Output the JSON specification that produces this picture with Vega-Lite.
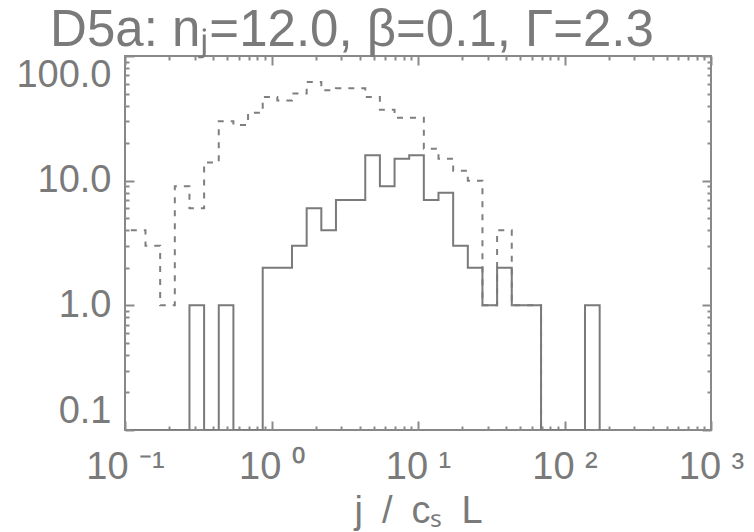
{
  "$schema": "https://vega.github.io/schema/vega-lite/v6.json",
  "width": 586,
  "height": 374,
  "autosize": {"type": "none"},
  "padding": {"left": 125, "top": 56, "right": 43, "bottom": 102},
  "background": "white",
  "title": {
    "text": "D5a: n\u2c7c=12.0, \u03b2=0.1, \u0393=2.3",
    "anchor": "middle",
    "frame": "group",
    "dx": -66,
    "dy": 52,
    "fontSize": 51,
    "font": "Liberation Sans",
    "fontWeight": "normal",
    "color": "#7a7a7a",
    "baseline": "alphabetic",
    "offset": 10
  },
  "datasets": {
    "hist": [
      {"j": 0.1096, "solid": 0, "dashed": 4},
      {"j": 0.1380, "solid": 0, "dashed": 3},
      {"j": 0.1738, "solid": 0, "dashed": 1},
      {"j": 0.2188, "solid": 0, "dashed": 9},
      {"j": 0.2754, "solid": 1, "dashed": 6},
      {"j": 0.3467, "solid": 0, "dashed": 14},
      {"j": 0.4365, "solid": 1, "dashed": 30},
      {"j": 0.5495, "solid": 0, "dashed": 28},
      {"j": 0.6918, "solid": 0, "dashed": 35},
      {"j": 0.8710, "solid": 2, "dashed": 47},
      {"j": 1.096, "solid": 2, "dashed": 44},
      {"j": 1.380, "solid": 3, "dashed": 50},
      {"j": 1.738, "solid": 6, "dashed": 62},
      {"j": 2.188, "solid": 4, "dashed": 53},
      {"j": 2.754, "solid": 7, "dashed": 55},
      {"j": 3.467, "solid": 7, "dashed": 55},
      {"j": 4.365, "solid": 16, "dashed": 47},
      {"j": 5.495, "solid": 9, "dashed": 37},
      {"j": 6.918, "solid": 15, "dashed": 32},
      {"j": 8.710, "solid": 16, "dashed": 32},
      {"j": 10.96, "solid": 7, "dashed": 18},
      {"j": 13.80, "solid": 8, "dashed": 15},
      {"j": 17.38, "solid": 3, "dashed": 12},
      {"j": 21.88, "solid": 2, "dashed": 10},
      {"j": 27.54, "solid": 1, "dashed": 1},
      {"j": 34.67, "solid": 2, "dashed": 4},
      {"j": 43.65, "solid": 1, "dashed": 1},
      {"j": 54.95, "solid": 1, "dashed": 1},
      {"j": 69.18, "solid": 0, "dashed": 0},
      {"j": 87.10, "solid": 0, "dashed": 0},
      {"j": 109.6, "solid": 0, "dashed": 0},
      {"j": 138.0, "solid": 1, "dashed": 0},
      {"j": 173.8, "solid": 0, "dashed": 0}
    ]
  },
  "data": {"name": "hist"},
  "resolve": {
    "scale": {"x": "shared", "y": "shared"},
    "axis": {"x": "independent", "y": "independent"}
  },
  "layer": [
    {
      "mark": {"type": "line", "interpolate": "step-after", "color": "#7f7f7f", "strokeWidth": 2, "strokeDash": [6, 7], "clip": true},
      "encoding": {
        "x": {
          "field": "j", "type": "quantitative",
          "scale": {"type": "log", "domain": [0.1, 1000], "nice": false},
          "axis": {
            "orient": "bottom",
            "values": [0.1, 1, 10, 100, 1000],
            "labelExpr": "datum.value < 0.5 ? '10 \u207b\u00b9' : datum.value < 5 ? '10 \u2070' : datum.value < 50 ? '10 \u00b9' : datum.value < 500 ? '10 \u00b2' : '10 \u00b3'",
            "domain": false, "grid": false,
            "tickSize": -9, "tickWidth": 2, "tickColor": "#8a8a8a",
            "labelFont": "Liberation Sans", "labelFontSize": 38, "labelColor": "#7a7a7a",
            "labelPadding": 27, "labelFlush": false, "labelOverlap": false,
            "title": "j\u2002/\u2002c\u209b\u2002L",
            "titleFont": "Liberation Sans", "titleFontSize": 38, "titleFontWeight": "normal", "titleColor": "#7a7a7a",
            "titlePadding": 6
          }
        },
        "y": {
          "field": "dashed", "type": "quantitative",
          "scale": {"type": "log", "domain": [0.1, 100], "nice": false, "clamp": true},
          "axis": {
            "orient": "left",
            "values": [0.1, 1, 10, 100],
            "format": ".1f",
            "domain": false, "grid": false,
            "tickSize": -9, "tickWidth": 2, "tickColor": "#8a8a8a",
            "labelFont": "Liberation Sans", "labelFontSize": 38, "labelColor": "#7a7a7a",
            "labelPadding": 23, "labelFlush": true, "labelFlushOffset": 0, "labelOverlap": false,
            "title": null
          }
        }
      }
    },
    {
      "mark": {"type": "line", "interpolate": "step-after", "color": "#7a7a7a", "strokeWidth": 2, "clip": true},
      "encoding": {
        "x": {
          "field": "j", "type": "quantitative",
          "scale": {"type": "log", "domain": [0.1, 1000], "nice": false},
          "axis": {
            "orient": "top", "values": [0.1, 1, 10, 100, 1000],
            "labels": false, "domain": false, "grid": false,
            "tickSize": -9, "tickWidth": 2, "tickColor": "#8a8a8a", "title": null
          }
        },
        "y": {
          "field": "solid", "type": "quantitative",
          "scale": {"type": "log", "domain": [0.1, 100], "nice": false, "clamp": true},
          "axis": {
            "orient": "right", "values": [0.1, 1, 10, 100],
            "labels": false, "domain": false, "grid": false,
            "tickSize": -9, "tickWidth": 2, "tickColor": "#8a8a8a", "title": null
          }
        }
      }
    },
    {
      "mark": {"type": "line", "interpolate": "step-after", "strokeOpacity": 0, "clip": true},
      "encoding": {
        "x": {
          "field": "j", "type": "quantitative",
          "scale": {"type": "log", "domain": [0.1, 1000], "nice": false},
          "axis": {
            "orient": "bottom",
            "values": [0.2, 0.3, 0.4, 0.5, 0.6, 0.7, 0.8, 0.9, 2, 3, 4, 5, 6, 7, 8, 9, 20, 30, 40, 50, 60, 70, 80, 90, 200, 300, 400, 500, 600, 700, 800, 900],
            "labels": false, "domain": false, "grid": false,
            "tickSize": -4, "tickWidth": 2, "tickColor": "#8a8a8a", "title": null
          }
        },
        "y": {
          "field": "solid", "type": "quantitative",
          "scale": {"type": "log", "domain": [0.1, 100], "nice": false, "clamp": true},
          "axis": {
            "orient": "left",
            "values": [0.2, 0.3, 0.4, 0.5, 0.6, 0.7, 0.8, 0.9, 2, 3, 4, 5, 6, 7, 8, 9, 20, 30, 40, 50, 60, 70, 80, 90],
            "labels": false, "domain": false, "grid": false,
            "tickSize": -4, "tickWidth": 2, "tickColor": "#8a8a8a", "title": null
          }
        }
      }
    },
    {
      "mark": {"type": "line", "interpolate": "step-after", "strokeOpacity": 0, "clip": true},
      "encoding": {
        "x": {
          "field": "j", "type": "quantitative",
          "scale": {"type": "log", "domain": [0.1, 1000], "nice": false},
          "axis": {
            "orient": "top",
            "values": [0.2, 0.3, 0.4, 0.5, 0.6, 0.7, 0.8, 0.9, 2, 3, 4, 5, 6, 7, 8, 9, 20, 30, 40, 50, 60, 70, 80, 90, 200, 300, 400, 500, 600, 700, 800, 900],
            "labels": false, "domain": false, "grid": false,
            "tickSize": -4, "tickWidth": 2, "tickColor": "#8a8a8a", "title": null
          }
        },
        "y": {
          "field": "solid", "type": "quantitative",
          "scale": {"type": "log", "domain": [0.1, 100], "nice": false, "clamp": true},
          "axis": {
            "orient": "right",
            "values": [0.2, 0.3, 0.4, 0.5, 0.6, 0.7, 0.8, 0.9, 2, 3, 4, 5, 6, 7, 8, 9, 20, 30, 40, 50, 60, 70, 80, 90],
            "labels": false, "domain": false, "grid": false,
            "tickSize": -4, "tickWidth": 2, "tickColor": "#8a8a8a", "title": null
          }
        }
      }
    }
  ],
  "config": {
    "view": {"stroke": "#888888", "strokeWidth": 2},
    "axis": {"offset": 0}
  }
}
